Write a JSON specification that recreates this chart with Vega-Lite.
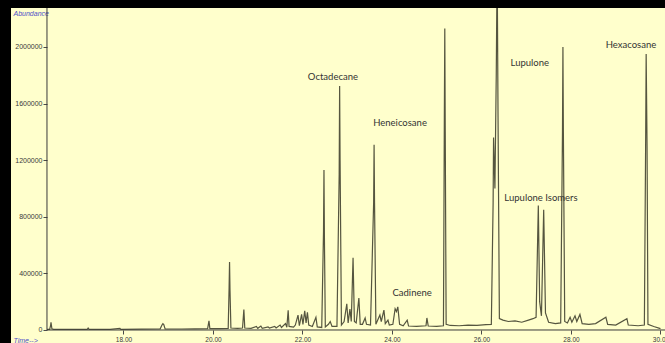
{
  "$schema": "https://vega.github.io/schema/vega-lite/v6.json",
  "width": 654,
  "height": 335,
  "autosize": {"type": "none"},
  "padding": {"left": 11, "top": 8, "right": 0, "bottom": 0},
  "background": "#000000",
  "config": {
    "view": {"fill": "#FFFFCC", "stroke": null},
    "axis": {
      "domain": false,
      "grid": false,
      "labelFont": "Liberation Sans",
      "labelColor": "#3a3a3a",
      "tickColor": "#4a4a4a",
      "labelOverlap": false,
      "labelFlush": false,
      "titleFont": "Liberation Sans",
      "titleFontWeight": "normal",
      "titleFontStyle": "italic",
      "titleColor": "#5050c8",
      "titleFontSize": 7
    }
  },
  "datasets": {
    "trace": [
      {"time": 16.29, "abundance": 4000},
      {"time": 16.35, "abundance": 4000},
      {"time": 16.37, "abundance": 30000},
      {"time": 16.38, "abundance": 55000},
      {"time": 16.40, "abundance": 8000},
      {"time": 16.44, "abundance": 4000},
      {"time": 16.90, "abundance": 4000},
      {"time": 17.19, "abundance": 5000},
      {"time": 17.21, "abundance": 14000},
      {"time": 17.23, "abundance": 5000},
      {"time": 17.70, "abundance": 5000},
      {"time": 17.92, "abundance": 12000},
      {"time": 17.94, "abundance": 5000},
      {"time": 18.40, "abundance": 6000},
      {"time": 18.82, "abundance": 8000},
      {"time": 18.86, "abundance": 35000},
      {"time": 18.88, "abundance": 45000},
      {"time": 18.90, "abundance": 38000},
      {"time": 18.93, "abundance": 8000},
      {"time": 19.30, "abundance": 7000},
      {"time": 19.60, "abundance": 8000},
      {"time": 19.88, "abundance": 10000},
      {"time": 19.91, "abundance": 65000},
      {"time": 19.93, "abundance": 10000},
      {"time": 20.15, "abundance": 10000},
      {"time": 20.34, "abundance": 12000},
      {"time": 20.36, "abundance": 300000},
      {"time": 20.37, "abundance": 480000},
      {"time": 20.38, "abundance": 280000},
      {"time": 20.40, "abundance": 14000},
      {"time": 20.55, "abundance": 12000},
      {"time": 20.66, "abundance": 14000},
      {"time": 20.69, "abundance": 145000},
      {"time": 20.71, "abundance": 14000},
      {"time": 20.85, "abundance": 12000},
      {"time": 20.97, "abundance": 25000},
      {"time": 21.00, "abundance": 12000},
      {"time": 21.07, "abundance": 28000},
      {"time": 21.10, "abundance": 12000},
      {"time": 21.23, "abundance": 22000},
      {"time": 21.26, "abundance": 14000},
      {"time": 21.38, "abundance": 25000},
      {"time": 21.41, "abundance": 15000},
      {"time": 21.50, "abundance": 35000},
      {"time": 21.53, "abundance": 18000},
      {"time": 21.62, "abundance": 45000},
      {"time": 21.65, "abundance": 20000},
      {"time": 21.68, "abundance": 140000},
      {"time": 21.70, "abundance": 25000},
      {"time": 21.80, "abundance": 20000},
      {"time": 21.84, "abundance": 35000},
      {"time": 21.90, "abundance": 105000},
      {"time": 21.93, "abundance": 30000},
      {"time": 21.98, "abundance": 110000},
      {"time": 22.01, "abundance": 40000},
      {"time": 22.05, "abundance": 135000},
      {"time": 22.08, "abundance": 50000},
      {"time": 22.11, "abundance": 125000},
      {"time": 22.14, "abundance": 35000},
      {"time": 22.22, "abundance": 25000},
      {"time": 22.30, "abundance": 90000},
      {"time": 22.33, "abundance": 22000},
      {"time": 22.43, "abundance": 18000},
      {"time": 22.47, "abundance": 700000},
      {"time": 22.48, "abundance": 1130000},
      {"time": 22.49, "abundance": 650000},
      {"time": 22.51, "abundance": 22000},
      {"time": 22.58, "abundance": 40000},
      {"time": 22.62, "abundance": 60000},
      {"time": 22.66, "abundance": 25000},
      {"time": 22.77, "abundance": 25000},
      {"time": 22.82, "abundance": 1100000},
      {"time": 22.83, "abundance": 1725000},
      {"time": 22.84, "abundance": 1200000},
      {"time": 22.87, "abundance": 35000},
      {"time": 22.93, "abundance": 60000},
      {"time": 22.99, "abundance": 185000},
      {"time": 23.02, "abundance": 50000},
      {"time": 23.06, "abundance": 148000},
      {"time": 23.09, "abundance": 60000},
      {"time": 23.13, "abundance": 510000},
      {"time": 23.16, "abundance": 60000},
      {"time": 23.20, "abundance": 50000},
      {"time": 23.26, "abundance": 226000},
      {"time": 23.29, "abundance": 40000},
      {"time": 23.34, "abundance": 40000},
      {"time": 23.40, "abundance": 85000},
      {"time": 23.43, "abundance": 40000},
      {"time": 23.52, "abundance": 35000},
      {"time": 23.59, "abundance": 900000},
      {"time": 23.60, "abundance": 1310000},
      {"time": 23.61, "abundance": 900000},
      {"time": 23.64, "abundance": 40000},
      {"time": 23.73, "abundance": 106000},
      {"time": 23.76, "abundance": 60000},
      {"time": 23.82, "abundance": 141000},
      {"time": 23.85, "abundance": 45000},
      {"time": 23.91, "abundance": 70000},
      {"time": 23.94, "abundance": 35000},
      {"time": 24.02, "abundance": 40000},
      {"time": 24.07, "abundance": 150000},
      {"time": 24.10, "abundance": 130000},
      {"time": 24.13, "abundance": 163000},
      {"time": 24.17, "abundance": 40000},
      {"time": 24.25, "abundance": 30000},
      {"time": 24.34, "abundance": 70000},
      {"time": 24.37, "abundance": 28000},
      {"time": 24.55, "abundance": 25000},
      {"time": 24.76, "abundance": 30000},
      {"time": 24.78, "abundance": 85000},
      {"time": 24.81, "abundance": 28000},
      {"time": 25.00, "abundance": 25000},
      {"time": 25.15, "abundance": 30000},
      {"time": 25.17, "abundance": 1500000},
      {"time": 25.18, "abundance": 2130000},
      {"time": 25.19, "abundance": 1400000},
      {"time": 25.21, "abundance": 40000},
      {"time": 25.30, "abundance": 32000},
      {"time": 25.50, "abundance": 30000},
      {"time": 25.70, "abundance": 35000},
      {"time": 25.90, "abundance": 32000},
      {"time": 26.10, "abundance": 38000},
      {"time": 26.22, "abundance": 40000},
      {"time": 26.26, "abundance": 900000},
      {"time": 26.27, "abundance": 1360000},
      {"time": 26.30, "abundance": 1000000},
      {"time": 26.33, "abundance": 1800000},
      {"time": 26.35, "abundance": 2600000},
      {"time": 26.37, "abundance": 1500000},
      {"time": 26.40, "abundance": 80000},
      {"time": 26.48, "abundance": 70000},
      {"time": 26.60, "abundance": 60000},
      {"time": 26.75, "abundance": 65000},
      {"time": 26.90, "abundance": 55000},
      {"time": 27.05, "abundance": 70000},
      {"time": 27.15, "abundance": 80000},
      {"time": 27.22, "abundance": 90000},
      {"time": 27.27, "abundance": 880000},
      {"time": 27.30, "abundance": 200000},
      {"time": 27.34, "abundance": 100000},
      {"time": 27.39, "abundance": 850000},
      {"time": 27.43, "abundance": 120000},
      {"time": 27.50, "abundance": 55000},
      {"time": 27.65, "abundance": 45000},
      {"time": 27.77, "abundance": 50000},
      {"time": 27.81, "abundance": 1400000},
      {"time": 27.82, "abundance": 2000000},
      {"time": 27.83, "abundance": 1400000},
      {"time": 27.86, "abundance": 60000},
      {"time": 27.92, "abundance": 50000},
      {"time": 27.98, "abundance": 90000},
      {"time": 28.02, "abundance": 55000},
      {"time": 28.09, "abundance": 100000},
      {"time": 28.13, "abundance": 60000},
      {"time": 28.20, "abundance": 110000},
      {"time": 28.25, "abundance": 45000},
      {"time": 28.40, "abundance": 40000},
      {"time": 28.55, "abundance": 45000},
      {"time": 28.78, "abundance": 90000},
      {"time": 28.82, "abundance": 40000},
      {"time": 29.00, "abundance": 35000},
      {"time": 29.25, "abundance": 80000},
      {"time": 29.28, "abundance": 35000},
      {"time": 29.50, "abundance": 30000},
      {"time": 29.64, "abundance": 35000},
      {"time": 29.67, "abundance": 1400000},
      {"time": 29.68, "abundance": 1950000},
      {"time": 29.70, "abundance": 1300000},
      {"time": 29.72, "abundance": 40000},
      {"time": 29.85, "abundance": 25000},
      {"time": 30.00, "abundance": 10000}
    ],
    "labels": [
      {"label": "Octadecane", "time": 22.68, "abundance": 1788000},
      {"label": "Heneicosane", "time": 24.18, "abundance": 1463000},
      {"label": "Cadinene", "time": 24.45, "abundance": 261000},
      {"label": "Lupulone", "time": 27.08, "abundance": 1887000},
      {"label": "Lupulone  Isomers", "time": 27.33, "abundance": 933000},
      {"label": "Hexacosane", "time": 29.34, "abundance": 2014000}
    ]
  },
  "layer": [
    {
      "data": {"name": "trace"},
      "mark": {"type": "line", "color": "#55553f", "strokeWidth": 1.2, "clip": true, "interpolate": "linear"},
      "encoding": {
        "x": {
          "field": "time",
          "type": "quantitative",
          "scale": {"domain": [15.486, 30.101], "nice": false, "zero": false},
          "axis": {
            "orient": "bottom",
            "offset": -13,
            "title": "Time-->",
            "titleAlign": "left",
            "titleBaseline": "middle",
            "titleAngle": 0,
            "titleX": 2,
            "titleY": 10,
            "values": [18, 20, 22, 24, 26, 28, 30],
            "format": ".2f",
            "labelOverlap": false,
            "labelFlush": false,
            "labelFontSize": 6.5,
            "labelPadding": 2,
            "tickSize": 4
          }
        },
        "y": {
          "field": "abundance",
          "type": "quantitative",
          "scale": {"domain": [-91900, 2275600], "nice": false, "zero": false},
          "axis": {
            "orient": "left",
            "offset": -36,
            "title": "Abundance",
            "titleAngle": 0,
            "titleAlign": "left",
            "titleBaseline": "middle",
            "titleX": -34,
            "titleY": 5,
            "values": [0, 200000, 400000, 600000, 800000, 1000000, 1200000, 1400000, 1600000, 1800000, 2000000],
            "format": "d",
            "labelOverlap": false,
            "labelFlush": false,
            "labelFontSize": 7,
            "labelPadding": 1,
            "tickSize": 4
          }
        }
      }
    },
    {
      "data": {"values": [{}]},
      "mark": {"type": "rule", "color": "#3a3a3a", "strokeWidth": 1},
      "encoding": {
        "x": {"datum": 16.29, "type": "quantitative"},
        "y": {"datum": 0, "type": "quantitative"},
        "y2": {"datum": 2275600}
      }
    },
    {
      "data": {"values": [{}]},
      "mark": {"type": "rule", "color": "#3a3a3a", "strokeWidth": 1},
      "encoding": {
        "x": {"datum": 16.29, "type": "quantitative"},
        "x2": {"datum": 30.101},
        "y": {"datum": 0, "type": "quantitative"}
      }
    },
    {
      "data": {"name": "labels"},
      "mark": {"type": "text", "font": "Lato", "fontSize": 9.5, "color": "#333333", "align": "center", "baseline": "middle"},
      "encoding": {
        "x": {"field": "time", "type": "quantitative"},
        "y": {"field": "abundance", "type": "quantitative"},
        "text": {"field": "label"}
      }
    }
  ]
}
